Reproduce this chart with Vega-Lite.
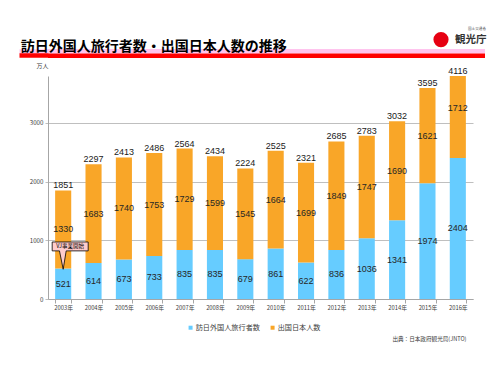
{
  "$schema": "https://vega.github.io/schema/vega-lite/v6.json",
  "padding": {"left": 16, "top": 27, "right": 16, "bottom": 5},
  "background": "white",
  "resolve": {
    "scale": {"color": "independent", "shape": "independent"},
    "legend": {"color": "independent", "shape": "independent"}
  },
  "datasets": {
    "flows": [
      {"year": "2003年", "series": "訪日外国人旅行者数", "value": 521},
      {"year": "2004年", "series": "訪日外国人旅行者数", "value": 614},
      {"year": "2005年", "series": "訪日外国人旅行者数", "value": 673},
      {"year": "2006年", "series": "訪日外国人旅行者数", "value": 733},
      {"year": "2007年", "series": "訪日外国人旅行者数", "value": 835},
      {"year": "2008年", "series": "訪日外国人旅行者数", "value": 835},
      {"year": "2009年", "series": "訪日外国人旅行者数", "value": 679},
      {"year": "2010年", "series": "訪日外国人旅行者数", "value": 861},
      {"year": "2011年", "series": "訪日外国人旅行者数", "value": 622},
      {"year": "2012年", "series": "訪日外国人旅行者数", "value": 836},
      {"year": "2013年", "series": "訪日外国人旅行者数", "value": 1036},
      {"year": "2014年", "series": "訪日外国人旅行者数", "value": 1341},
      {"year": "2015年", "series": "訪日外国人旅行者数", "value": 1974},
      {"year": "2016年", "series": "訪日外国人旅行者数", "value": 2404},
      {"year": "2003年", "series": "出国日本人数", "value": 1330},
      {"year": "2004年", "series": "出国日本人数", "value": 1683},
      {"year": "2005年", "series": "出国日本人数", "value": 1740},
      {"year": "2006年", "series": "出国日本人数", "value": 1753},
      {"year": "2007年", "series": "出国日本人数", "value": 1729},
      {"year": "2008年", "series": "出国日本人数", "value": 1599},
      {"year": "2009年", "series": "出国日本人数", "value": 1545},
      {"year": "2010年", "series": "出国日本人数", "value": 1664},
      {"year": "2011年", "series": "出国日本人数", "value": 1699},
      {"year": "2012年", "series": "出国日本人数", "value": 1849},
      {"year": "2013年", "series": "出国日本人数", "value": 1747},
      {"year": "2014年", "series": "出国日本人数", "value": 1690},
      {"year": "2015年", "series": "出国日本人数", "value": 1621},
      {"year": "2016年", "series": "出国日本人数", "value": 1712}
    ],
    "totals": [
      {"year": "2003年", "total": 1851},
      {"year": "2004年", "total": 2297},
      {"year": "2005年", "total": 2413},
      {"year": "2006年", "total": 2486},
      {"year": "2007年", "total": 2564},
      {"year": "2008年", "total": 2434},
      {"year": "2009年", "total": 2224},
      {"year": "2010年", "total": 2525},
      {"year": "2011年", "total": 2321},
      {"year": "2012年", "total": 2685},
      {"year": "2013年", "total": 2783},
      {"year": "2014年", "total": 3032},
      {"year": "2015年", "total": 3595},
      {"year": "2016年", "total": 4116}
    ],
    "notes": [
      {"year": "2003年", "note": "VJ事業開始"}
    ]
  },
  "spacing": 4,
  "vconcat": [
    {
      "width": 437,
      "height": 9,
      "title": {
        "text": "訪日外国人旅行者数・出国日本人数の推移",
        "anchor": "start",
        "frame": "bounds",
        "dx": 4,
        "fontSize": 14,
        "fontWeight": "bold",
        "font": "Noto Sans CJK JP",
        "color": "#000000",
        "offset": -26.5
      },
      "layer": [
        {
          "data": {"values": [{"band": "pink"}, {"band": "red"}]},
          "mark": {"type": "bar"},
          "encoding": {
            "y": {
              "field": "band", "type": "nominal",
              "scale": {"paddingInner": 0, "paddingOuter": 0},
              "axis": {
                "title": null, "labels": false, "domain": false, "grid": false,
                "tickSize": 29, "tickWidth": 4.5, "tickCap": "butt",
                "tickColor": {"condition": {"test": "datum.value === 'pink'", "value": "#FFC4EE"}, "value": "#FF0000"}
              }
            },
            "color": {"field": "band", "type": "nominal", "legend": null, "scale": {"domain": ["pink", "red"], "range": ["#FFC4EE", "#FF0000"]}}
          }
        },
        {
          "data": {"values": [{"agency": "観光庁"}]},
          "mark": {"type": "point", "size": 0, "opacity": 0, "filled": true, "color": "#E60012"},
          "encoding": {
            "shape": {
              "field": "agency", "type": "nominal",
              "scale": {"range": ["circle"]},
              "legend": {
                "title": "国土交通省", "titleFontSize": 3.6, "titleFont": "Noto Sans CJK JP", "titleColor": "#555555",
                "titleFontWeight": "normal", "titleAnchor": "end", "titlePadding": 1,
                "orient": "none", "legendX": 385, "legendY": -22, "padding": 0,
                "symbolSize": 230, "symbolFillColor": "#E60012", "symbolStrokeColor": "#E60012", "symbolStrokeWidth": 0,
                "symbolOpacity": 1, "symbolType": "circle",
                "labelFont": "Noto Sans CJK JP", "labelFontSize": 10.5, "labelFontWeight": "bold", "labelColor": "#333333",
                "labelOffset": 6
              }
            }
          }
        }
      ]
    },
    {
      "width": 425,
      "height": 223,
      "layer": [
        {
          "data": {"name": "flows"},
          "mark": {"type": "bar"},
          "encoding": {
            "x": {
              "field": "year", "type": "nominal", "sort": null,
              "scale": {"paddingInner": 0.47, "paddingOuter": 0.235},
              "axis": {
                "title": "出典：日本政府観光局(JNTO)",
                "labelAngle": 0, "labelFont": "Noto Sans CJK JP", "labelFontSize": 5.8, "labelColor": "#404040",
                "tickBand": "extent", "tickSize": 4, "tickColor": "#A6A6A6", "domainColor": "#A6A6A6", "labelPadding": 1,
                "titleX": 418, "titleY": 39, "titleAlign": "right", "titleBaseline": "middle",
                "titleFontSize": 5.6, "titleFontWeight": "normal", "titleFont": "Noto Sans CJK JP", "titleColor": "#404040"
              }
            },
            "y": {
              "field": "value", "type": "quantitative", "stack": "zero",
              "scale": {"domain": [0, 3800], "clamp": true, "nice": false},
              "axis": {
                "title": "万人", "titleAngle": 0, "titleX": -12, "titleY": -11, "titleAlign": "left", "titleBaseline": "middle",
                "titleFontSize": 6, "titleFontWeight": "normal", "titleFont": "Noto Sans CJK JP", "titleColor": "#404040",
                "values": [0, 500, 1000, 1500, 2000, 2500, 3000, 3500], "format": "d",
                "labelFont": "Noto Sans CJK JP", "labelFontSize": 6.2, "labelColor": "#404040",
                "tickSize": 3, "tickColor": "#BFBFBF", "domainColor": "#A6A6A6", "gridColor": "#BFBFBF",
                "labelPadding": 2, "minExtent": 29
              }
            },
            "color": {
              "field": "series", "type": "nominal",
              "scale": {"domain": ["訪日外国人旅行者数", "出国日本人数"], "range": ["#66CCFF", "#F9A628"]},
              "legend": {
                "title": null, "orient": "none", "legendX": 139, "legendY": 248, "direction": "horizontal",
                "symbolType": "square", "symbolSize": 16, "symbolStrokeWidth": 0,
                "labelFont": "Noto Sans CJK JP", "labelFontSize": 7.15, "labelColor": "#404040",
                "columnPadding": 9, "labelOffset": 1.5, "padding": 0
              }
            },
            "order": {"field": "series", "sort": "descending"}
          }
        },
        {
          "data": {"name": "totals"},
          "mark": {"type": "text", "dy": -2, "baseline": "alphabetic", "font": "Liberation Sans", "fontSize": 9, "color": "#1A1A1A"},
          "encoding": {
            "x": {"field": "year", "type": "nominal", "sort": null},
            "y": {"field": "total", "type": "quantitative"},
            "text": {"field": "total", "type": "quantitative", "format": "d"}
          }
        },
        {
          "data": {"name": "flows"},
          "transform": [
            {"stack": "value", "groupby": ["year"], "sort": [{"field": "series", "order": "descending"}], "as": ["v0", "v1"]},
            {"fold": ["v0", "v1"], "as": ["edge", "pos"]},
            {"aggregate": [{"op": "mean", "field": "pos", "as": "mid"}, {"op": "max", "field": "value", "as": "value"}], "groupby": ["year", "series"]}
          ],
          "mark": {"type": "text", "baseline": "middle", "font": "Liberation Sans", "fontSize": 9, "color": "#262626"},
          "encoding": {
            "x": {"field": "year", "type": "nominal", "sort": null},
            "y": {"field": "mid", "type": "quantitative"},
            "text": {"field": "value", "type": "quantitative", "format": "d"}
          }
        },
        {
          "data": {"name": "notes"},
          "mark": {
            "type": "point",
            "shape": "M -0.55 -0.445 L 1.25 -0.445 L 1.25 0 L 0.15 0 L 0 0.92 L -0.185 0 L -0.55 0 Z",
            "size": 1600, "filled": true, "fill": "#FFCCCC", "stroke": "#000000", "strokeWidth": 0.8, "opacity": 1
          },
          "encoding": {
            "x": {"field": "year", "type": "nominal", "sort": null},
            "y": {"datum": 820, "type": "quantitative"}
          }
        },
        {
          "data": {"name": "notes"},
          "mark": {"type": "text", "dx": 7, "dy": -4.5, "fontSize": 5.5, "font": "Noto Sans CJK JP", "color": "#000000", "baseline": "middle"},
          "encoding": {
            "x": {"field": "year", "type": "nominal", "sort": null},
            "y": {"datum": 820, "type": "quantitative"},
            "text": {"field": "note"}
          }
        }
      ]
    }
  ],
  "config": {"view": {"stroke": null}}
}
